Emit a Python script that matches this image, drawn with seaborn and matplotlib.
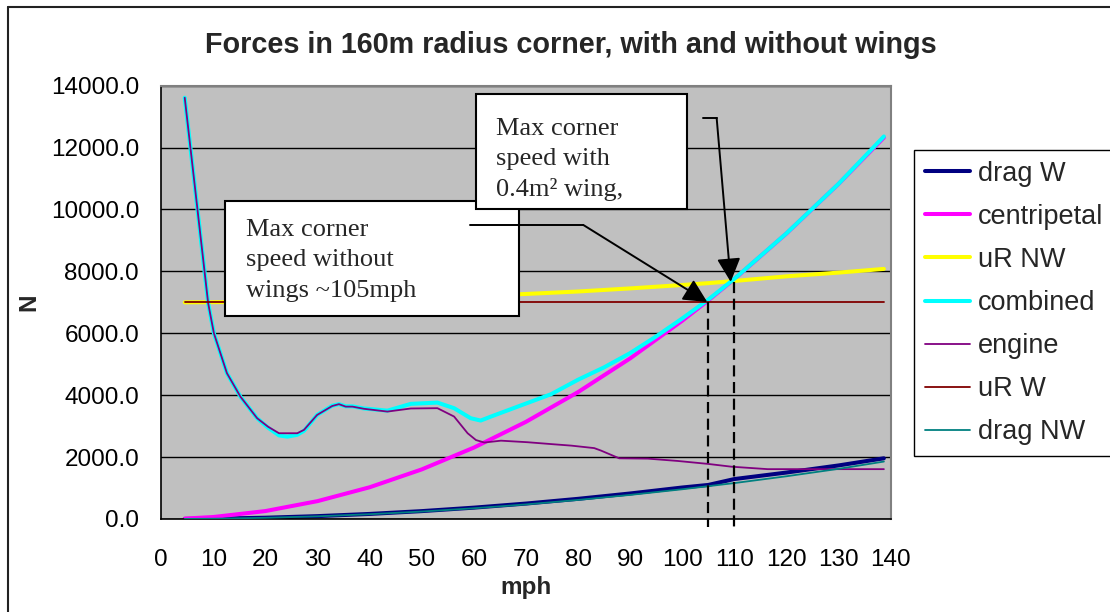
import matplotlib
matplotlib.use("Agg")
import matplotlib.pyplot as plt
from matplotlib.lines import Line2D
from matplotlib.patches import Rectangle
from matplotlib.ticker import FormatStrFormatter, MultipleLocator
import pandas as pd
import seaborn as sns

# ─── DATA ────────────────────────────────────────────────────────────────────

# shared speed grid for the smooth curves (mph)
mph = [4.5, 10, 20, 30, 40, 50, 60, 70, 80, 90, 100, 105, 110, 120, 130, 138.7]
drag_w      = [2, 10, 41, 92, 163, 254, 366, 498, 651, 824, 1017, 1100, 1290, 1500, 1730, 1960]
centripetal = [13, 64, 256, 577, 1025, 1602, 2306, 3139, 4100, 5189, 6406, 7063, 7751, 9225, 10826, 12324]
ur_nw       = [7000, 7005, 7020, 7050, 7090, 7140, 7200, 7270, 7350, 7450, 7560, 7620, 7690, 7840, 7960, 8080]
drag_nw     = [2, 9, 38, 86, 154, 240, 346, 470, 615, 778, 960, 1060, 1160, 1380, 1620, 1855]

# flat line
mph_ends = [4.5, 138.7]
ur_w     = [7000, 7000]

# engine force (own speed points, it wiggles with the gears)
mph_engine = [4.5, 9.0, 10.1, 12.6, 15.2, 18.4, 20.5, 22.6, 26.1, 27.4, 29.9, 32.8,
              34.1, 35.4, 36.7, 38.9, 43.4, 47.9, 53.0, 56.2, 58.8, 60.4, 62.0, 65.2,
              70.3, 74.8, 78.7, 83.1, 84.4, 87.9, 93.4, 99.1, 104.9, 109.4, 116.4,
              123.5, 138.7]
engine = [13610, 6970, 6000, 4710, 3950, 3255, 2980, 2770, 2770, 2880, 3360, 3650,
          3710, 3630, 3630, 3560, 3470, 3570, 3580, 3310, 2770, 2550, 2470, 2530,
          2480, 2420, 2370, 2290, 2210, 1960, 1950, 1875, 1780, 1690, 1610,
          1610, 1610]

# combined force
mph_comb = [4.5, 9.0, 10.1, 12.6, 15.2, 18.4, 20.5, 22.6, 24.2, 26.1, 27.4, 29.9,
            32.8, 34.1, 35.4, 36.7, 38.9, 43.4, 47.9, 53.0, 56.2, 59.4, 61.3, 63.3,
            68.4, 74.8, 80.0, 85.0, 90.0, 95.0, 100.0, 105.0, 110.0, 120.0, 130.0, 138.7]
combined = [13610, 6970, 6000, 4710, 3950, 3255, 2950, 2700, 2660, 2720, 2850, 3360,
            3660, 3710, 3640, 3640, 3570, 3500, 3720, 3760, 3580, 3255, 3180, 3310,
            3630, 4030, 4500, 4900, 5360, 5900, 6480, 7090, 7760, 9230, 10830, 12360]

# annotations
note_no_wing = "Max corner\nspeed without\nwings ~105mph"
note_wing    = "Max corner\nspeed with\n0.4m\u00b2 wing,"
speed_no_wing, force_no_wing = 105, 7000
speed_wing,    force_wing    = 110, 7660

# ─── STYLE ───────────────────────────────────────────────────────────────────

sns.set_style("white")
plt.rcParams["font.family"] = ["Liberation Sans", "DejaVu Sans"]

series = [
    ("drag W",      mph,        drag_w,      "#000080", 2.9),
    ("centripetal", mph,        centripetal, "#FF00FF", 2.9),
    ("uR NW",       mph,        ur_nw,       "#FFFF00", 2.9),
    ("combined",    mph_comb,   combined,    "#00FFFF", 2.9),
    ("engine",      mph_engine, engine,      "#800080", 1.3),
    ("uR W",        mph_ends,   ur_w,        "#800000", 1.3),
    ("drag NW",     mph,        drag_nw,     "#008080", 1.3),
]

fig = plt.figure(figsize=(11.1, 6.12), dpi=100)
ax = fig.add_axes([0.1453, 0.152, 0.6571, 0.708])
ax.set_facecolor("#C0C0C0")

for i, (name, xs, ys, col, lw) in enumerate(series):
    d = pd.DataFrame({"mph": xs, "N": ys})
    sns.lineplot(data=d, x="mph", y="N", ax=ax, color=col, linewidth=lw,
                 label=name, sort=False, estimator=None, zorder=2 + i * 0.1)

ax.set_xlim(0, 140)
ax.set_ylim(0, 14000)
ax.xaxis.set_major_locator(MultipleLocator(10))
ax.yaxis.set_major_locator(MultipleLocator(2000))
ax.yaxis.set_major_formatter(FormatStrFormatter("%.1f"))
ax.grid(axis="y", color="black", linewidth=1.0)
ax.set_axisbelow(True)

for side in ["left", "bottom"]:
    ax.spines[side].set_color("black")
    ax.spines[side].set_linewidth(1.2)
for side in ["top", "right"]:
    ax.spines[side].set_color("#808080")
    ax.spines[side].set_linewidth(1.5)

ax.tick_params(axis="both", direction="out", length=6.5, width=1, colors="black",
               labelsize=17.5)
ax.tick_params(axis="y", pad=9.5)
ax.tick_params(axis="x", pad=15)

ax.set_xlabel("mph", fontsize=17.5, fontweight="bold")
ax.set_ylabel("N", fontsize=17.5, fontweight="bold")
ax.xaxis.set_label_coords(0.5, -0.159)
ax.yaxis.set_label_coords(-0.181, 0.5)
ax.xaxis.label.set_va("center")
ax.yaxis.label.set_va("center")

# dashed markers for the two max corner speeds
for sp, fv in [(speed_no_wing, force_no_wing), (speed_wing, force_wing)]:
    ax.plot([sp, sp], [fv, -250], color="black", linewidth=1.6,
            linestyle=(0, (5, 2.5)), clip_on=False, zorder=4)

# text boxes
ax.add_patch(Rectangle((12.2, 6559), 56.4, 3716, facecolor="white",
                       edgecolor="black", linewidth=1.5, zorder=5))
ax.text(16.2, 9700, note_no_wing, family="Liberation Serif", fontsize=19,
        va="top", ha="left", linespacing=1.5, zorder=6)
ax.add_patch(Rectangle((60.4, 10016), 40.5, 3716, facecolor="white",
                       edgecolor="black", linewidth=1.5, zorder=5))
ax.text(64.2, 12950, note_wing, family="Liberation Serif", fontsize=19,
        va="top", ha="left", linespacing=1.45, zorder=6)

# elbow arrows
ax.plot([59.2, 81.0], [9500, 9500], color="black", linewidth=1.4, zorder=6)
ax.annotate("", xy=(speed_no_wing - 0.2, force_no_wing + 10), xytext=(81.0, 9500),
            arrowprops=dict(arrowstyle="-|>,head_length=1.45,head_width=0.72",
                            mutation_scale=10, color="black", lw=1.4,
                            shrinkA=0, shrinkB=0), zorder=6)
ax.plot([104.0, 106.6], [12956, 12956], color="black", linewidth=1.4, zorder=6)
ax.annotate("", xy=(speed_wing - 0.7, force_wing), xytext=(106.6, 12956),
            arrowprops=dict(arrowstyle="-|>,head_length=1.45,head_width=0.72",
                            mutation_scale=10, color="black", lw=1.4,
                            shrinkA=0, shrinkB=0), zorder=6)

ax.legend(loc="upper left", bbox_to_anchor=(914 / 1110, 1 - 150 / 612),
          bbox_transform=fig.transFigure, frameon=True, fancybox=False,
          edgecolor="black", framealpha=1, fontsize=19.5, handlelength=1.67,
          handletextpad=0.3, labelspacing=0.63, borderpad=0.4, borderaxespad=0)
ax.get_legend().get_frame().set_linewidth(1.0)

fig.text(571 / 1110, 1 - 45 / 612, "Forces in 160m radius corner, with and without wings",
         fontsize=20.7, fontweight="bold", ha="center", va="center")

# chart area border (left and top edges show in the crop)
fig.add_artist(Line2D([8 / 1110, 8 / 1110], [0, 1 - 7 / 612], color="#222222", linewidth=1.5))
fig.add_artist(Line2D([8 / 1110, 1], [1 - 7 / 612, 1 - 7 / 612], color="#222222", linewidth=1.5))

fig.savefig("out.png", dpi=100)
